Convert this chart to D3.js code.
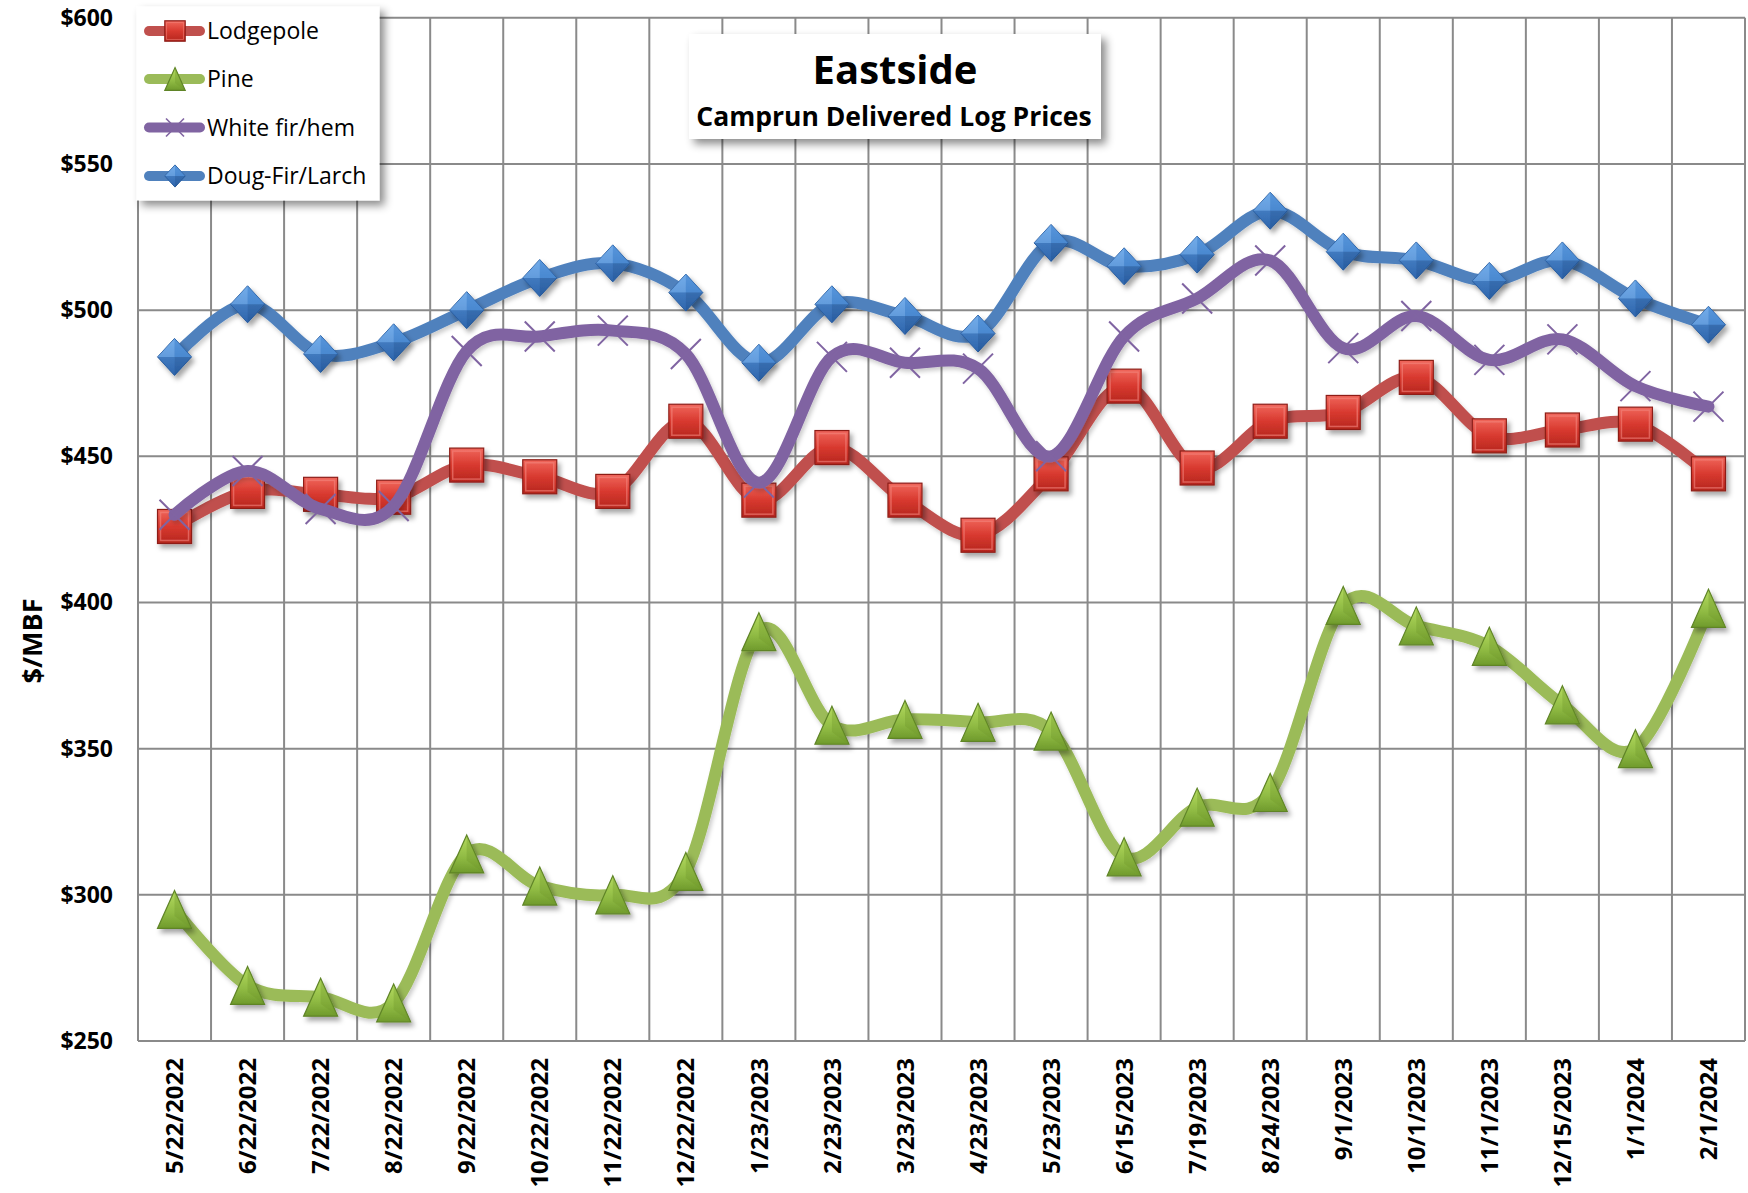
<!DOCTYPE html>
<html>
<head>
<meta charset="utf-8">
<script src="https://cdn.jsdelivr.net/npm/d3@7"></script>
<style>
  html, body { margin: 0; padding: 0; background: #fff; }
  svg { display: block; }
  text { font-family: "Open Sans", "Noto Sans", sans-serif; fill: #000; }
</style>
</head>
<body>
<svg id="chart" width="1748" height="1193"></svg>
<script>
const categories = ["5/22/2022","6/22/2022","7/22/2022","8/22/2022","9/22/2022","10/22/2022","11/22/2022","12/22/2022","1/23/2023","2/23/2023","3/23/2023","4/23/2023","5/23/2023","6/15/2023","7/19/2023","8/24/2023","9/1/2023","10/1/2023","11/1/2023","12/15/2023","1/1/2024","2/1/2024"];
const lodgepole = [426, 438, 437, 436, 447, 443, 438, 462, 435, 453, 435, 423, 444, 474, 446, 462, 465, 477, 457, 459, 461, 444];
const pine      = [295, 269, 265, 263, 314, 303, 300, 308, 390, 358, 360, 359, 356, 313, 330, 335, 399, 392, 385, 365, 350, 398];
const whiteFir  = [430, 445, 432, 433, 486, 491, 493, 485, 441, 484, 482, 480, 450, 491, 504, 517, 487, 498, 483, 490, 474, 467];
const dougFir   = [484, 502, 485, 489, 500, 511, 516, 506, 482, 502, 498, 492, 523, 515, 519, 534, 520, 517, 510, 517, 504, 495];
const seriesNames = ["Lodgepole", "Pine", "White fir/hem", "Doug-Fir/Larch"];
const yTicks = [250, 300, 350, 400, 450, 500, 550, 600];
const titleText = "Eastside";
const subtitleText = "Camprun Delivered Log Prices";
const yTitle = "$/MBF";

const series = [
  {name: seriesNames[0], values: lodgepole, color: "#C0504D", marker: "square"},
  {name: seriesNames[1], values: pine, color: "#9BBB59", marker: "triangle"},
  {name: seriesNames[2], values: whiteFir, color: "#8064A2", marker: "x"},
  {name: seriesNames[3], values: dougFir, color: "#4F81BD", marker: "diamond"}
];

const svg = d3.select("#chart");
const L = 138, R = 1745, T = 17.8, B = 1041;

const x = d3.scaleBand().domain(categories).range([L, R]).padding(0);
const y = d3.scaleLinear().domain([250, 600]).range([B, T]);

// defs
const defs = svg.append("defs");
const sh = defs.append("filter").attr("id", "shadow").attr("x", "-30%").attr("y", "-30%").attr("width", "160%").attr("height", "160%");
sh.append("feDropShadow").attr("dx", 3).attr("dy", 4).attr("stdDeviation", 2.5).attr("flood-color", "#000").attr("flood-opacity", 0.35);
const shL = defs.append("filter").attr("id", "lshadow").attr("x", "-5%").attr("y", "-5%").attr("width", "110%").attr("height", "120%");
shL.append("feDropShadow").attr("dx", 2).attr("dy", 3).attr("stdDeviation", 2).attr("flood-color", "#000").attr("flood-opacity", 0.2);
const shB = defs.append("filter").attr("id", "bshadow").attr("x", "-10%").attr("y", "-10%").attr("width", "130%").attr("height", "130%");
shB.append("feDropShadow").attr("dx", 5).attr("dy", 5).attr("stdDeviation", 4).attr("flood-color", "#000").attr("flood-opacity", 0.45);

function grad(id, stops) {
  const g = defs.append("linearGradient").attr("id", id).attr("x1", 0).attr("y1", 0).attr("x2", 0).attr("y2", 1);
  stops.forEach(s => g.append("stop").attr("offset", s[0]).attr("stop-color", s[1]));
}
grad("gRed", [[0, "#f0675c"], [0.5, "#d8392f"], [1, "#b5261e"]]);
grad("gGreen", [[0, "#b5dc60"], [0.6, "#8fba43"], [1, "#6f9a2c"]]);
grad("gBlue", [[0, "#6aa6e6"], [1, "#2f67b0"]]);

// gridlines
const grid = svg.append("g");
grid.selectAll("line.h").data(yTicks).join("line")
  .attr("x1", L).attr("x2", R).attr("y1", d => y(d)).attr("y2", d => y(d))
  .attr("stroke", "#8a8a8a").attr("stroke-width", 2);
const bounds = d3.range(categories.length + 1).map(i => L + i * x.step());
grid.selectAll("line.v").data(bounds).join("line")
  .attr("x1", d => d).attr("x2", d => d).attr("y1", T).attr("y2", B)
  .attr("stroke", "#8a8a8a").attr("stroke-width", 2);

// axes
const yAxis = svg.append("g").attr("transform", `translate(${L},0)`)
  .call(d3.axisLeft(y).tickValues(yTicks).tickSize(0).tickPadding(25).tickFormat(d => "$" + d));
yAxis.select(".domain").remove();
yAxis.selectAll("text").attr("font-family", "'Open Sans', sans-serif").attr("font-size", 23).attr("font-weight", 700).attr("fill", "#000");

const xAxis = svg.append("g").attr("transform", `translate(0,${B})`)
  .call(d3.axisBottom(x).tickSize(0));
xAxis.select(".domain").remove();
xAxis.selectAll("text")
  .attr("transform", "rotate(-90)")
  .attr("x", -17).attr("y", 0).attr("dy", "0.36em")
  .attr("text-anchor", "end")
  .attr("font-family", "'Open Sans', sans-serif").attr("font-size", 24).attr("font-weight", 700).attr("fill", "#000");

// y title
svg.append("text").attr("transform", "translate(33,641) rotate(-90)")
  .attr("text-anchor", "middle").attr("dy", "0.35em")
  .attr("font-size", 27).attr("font-weight", 700).text(yTitle);

// markers
function drawMarker(g, type, color, s) {
  if (type === "square") {
    const h = 17 * s;
    g.append("rect").attr("x", -h).attr("y", -h).attr("width", 2 * h).attr("height", 2 * h)
      .attr("fill", "url(#gRed)").attr("stroke", "#8e1f19").attr("stroke-width", 1.2);
    g.append("rect").attr("x", -h + 3 * s).attr("y", -h + 3 * s).attr("width", 2 * h - 6 * s).attr("height", 2 * h - 6 * s)
      .attr("fill", "none").attr("stroke", "#f3867d").attr("stroke-opacity", 0.6).attr("stroke-width", 1.5 * s);
  } else if (type === "triangle") {
    const w = 17 * s, ht = 19 * s;
    g.append("path").attr("d", `M0,${-ht}L${w},${ht}L${-w},${ht}Z`)
      .attr("fill", "url(#gGreen)").attr("stroke", "#5f8427").attr("stroke-width", 1.2);
    g.append("path").attr("d", `M0,${-ht}L0,${ht * 0.35}L${w},${ht}Z`).attr("fill", "#6f982b").attr("opacity", 0.35);
  } else if (type === "diamond") {
    const w = 17 * s, ht = 18.5 * s;
    g.append("path").attr("d", `M0,${-ht}L${w},0L0,${ht}L${-w},0Z`).attr("fill", "url(#gBlue)").attr("stroke", "#2a5d9e").attr("stroke-width", 1);
    g.append("path").attr("d", `M0,${-ht}L${w},0L0,0Z`).attr("fill", "#4a8ad4").attr("opacity", 0.6);
    g.append("path").attr("d", `M0,${-ht}L${-w},0L0,0Z`).attr("fill", "#79b2ee").attr("opacity", 0.5);
    g.append("path").attr("d", `M0,${ht}L${w},0L0,0Z`).attr("fill", "#1f4f8f").attr("opacity", 0.45);
    g.append("path").attr("d", `M0,${ht}L${-w},0L0,0Z`).attr("fill", "#2d64a8").attr("opacity", 0.35);
  } else if (type === "x") {
    const h = 15 * s;
    g.append("path").attr("d", `M${-h},${-h}L${h},${h}M${h},${-h}L${-h},${h}`)
      .attr("stroke", color).attr("stroke-width", 2 * Math.max(s, 0.8)).attr("fill", "none");
  }
}

const line = d3.line()
  .x((d, i) => x(categories[i]) + x.bandwidth() / 2)
  .y(d => y(d))
  .curve(d3.curveCardinal.tension(0));

series.forEach(s => {
  const g = svg.append("g");
  g.append("path").attr("d", line(s.values)).attr("fill", "none")
    .attr("stroke", s.color).attr("stroke-width", 12).attr("stroke-linecap", "round").attr("stroke-linejoin", "round")
    .attr("filter", "url(#lshadow)");
  s.values.forEach((v, i) => {
    const mg = g.append("g").attr("transform", `translate(${x(categories[i]) + x.bandwidth() / 2},${y(v)})`);
    if (s.marker !== "x") mg.attr("filter", "url(#shadow)");
    drawMarker(mg, s.marker, s.color, 1);
  });
});

// legend
const lg = svg.append("g");
lg.append("rect").attr("x", 136.5).attr("y", 6.5).attr("width", 243).attr("height", 194)
  .attr("fill", "#fff").attr("filter", "url(#bshadow)");
const legendY = [31, 79, 127.5, 176];
series.forEach((s, i) => {
  const g = lg.append("g").attr("transform", `translate(0,${legendY[i]})`);
  g.append("line").attr("x1", 149).attr("x2", 200).attr("y1", 0).attr("y2", 0)
    .attr("stroke", s.color).attr("stroke-width", 10).attr("stroke-linecap", "round");
  const mg = g.append("g").attr("transform", "translate(175,0)");
  drawMarker(mg, s.marker, s.color, 0.6);
  g.append("text").attr("x", 207).attr("y", 0).attr("dy", "0.35em")
    .attr("font-size", 23).text(s.name);
});

// title box
const tb = svg.append("g");
tb.append("rect").attr("x", 689).attr("y", 34).attr("width", 412).attr("height", 105)
  .attr("fill", "#fff").attr("filter", "url(#bshadow)");
tb.append("text").attr("x", 895).attr("y", 84).attr("text-anchor", "middle")
  .attr("font-size", 40).attr("font-weight", 700).text(titleText);
tb.append("text").attr("x", 894).attr("y", 126).attr("text-anchor", "middle")
  .attr("font-size", 26.5).attr("font-weight", 700).text(subtitleText);
</script>
</body>
</html>
